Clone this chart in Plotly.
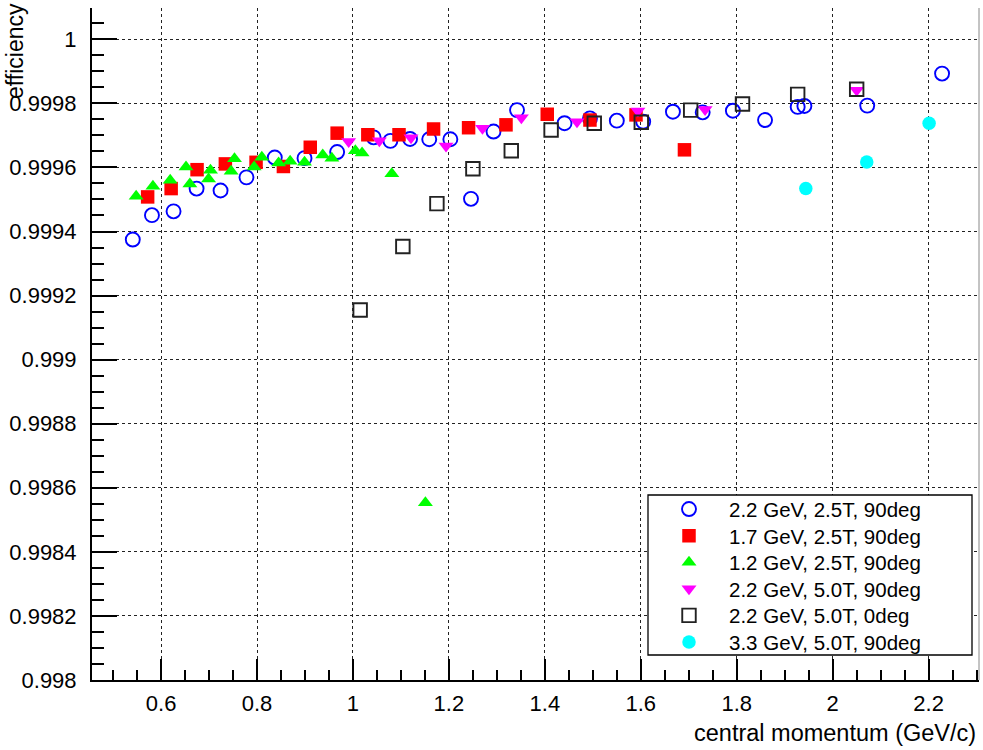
import plotly.graph_objects as go

# ---- data ----
x_22_25_90 = [0.541, 0.581, 0.626, 0.674, 0.724, 0.778, 0.837, 0.899, 0.967, 1.043, 1.078, 1.119, 1.159,
              1.203, 1.246, 1.293, 1.342, 1.441, 1.494, 1.550, 1.605, 1.667, 1.729, 1.792, 1.859, 1.927,
              1.941, 2.072, 2.228]
y_22_25_90 = [0.999375, 0.999451, 0.999463, 0.999534, 0.999528, 0.999569, 0.999631, 0.999629, 0.999648,
              0.999694, 0.999683, 0.999689, 0.999688, 0.999688, 0.999502, 0.999712, 0.999779, 0.999738,
              0.999753, 0.999746, 0.999743, 0.999774, 0.999772, 0.999777, 0.999748, 0.999789, 0.999792,
              0.999793, 0.999893]

x_17_25_90 = [0.572, 0.621, 0.675, 0.734, 0.798, 0.855, 0.911, 0.967, 1.031, 1.096, 1.168, 1.241, 1.319,
              1.405, 1.494, 1.590, 1.691]
y_17_25_90 = [0.999508, 0.999534, 0.999593, 0.999611, 0.999616, 0.999603, 0.999663, 0.999707, 0.999702,
              0.999702, 0.999720, 0.999724, 0.999733, 0.999766, 0.999748, 0.999764, 0.999655]

x_12_25_90 = [0.548, 0.583, 0.619, 0.652, 0.660, 0.699, 0.703, 0.746, 0.753, 0.794, 0.810, 0.845, 0.869,
              0.899, 0.937, 0.956, 1.005, 1.019, 1.081, 1.151]
y_12_25_90 = [0.999510, 0.999541, 0.999560, 0.999601, 0.999548, 0.999564, 0.999591, 0.999588, 0.999627,
              0.999601, 0.999632, 0.999614, 0.999619, 0.999616, 0.999639, 0.999629, 0.999652, 0.999645,
              0.999580, 0.998553]

x_22_50_90 = [0.991, 1.055, 1.121, 1.194, 1.270, 1.351, 1.467, 1.594, 1.734, 2.050]
y_22_50_90 = [0.999681, 0.999683, 0.999693, 0.999667, 0.999722, 0.999755, 0.999743, 0.999776, 0.999781,
              0.999841]

x_22_50_0 = [1.015, 1.104, 1.175, 1.250, 1.330, 1.413, 1.503, 1.601, 1.704, 1.812, 1.927, 2.050]
y_22_50_0 = [0.999155, 0.999353, 0.999487, 0.999596, 0.999652, 0.999717, 0.999738, 0.999741, 0.999779,
             0.999798, 0.999828, 0.999844]

x_33_50_90 = [1.944, 2.071, 2.201]
y_33_50_90 = [0.999534, 0.999617, 0.999738]

series_names = ["2.2 GeV, 2.5T, 90deg", "1.7 GeV, 2.5T, 90deg", "1.2 GeV, 2.5T, 90deg",
                "2.2 GeV, 5.0T, 90deg", "2.2 GeV, 5.0T, 0deg", "3.3 GeV, 5.0T, 90deg"]

x_tickvals = [0.6, 0.8, 1.0, 1.2, 1.4, 1.6, 1.8, 2.0, 2.2]
x_ticktext = ["0.6", "0.8", "1", "1.2", "1.4", "1.6", "1.8", "2", "2.2"]
y_tickvals = [0.998, 0.9982, 0.9984, 0.9986, 0.9988, 0.999, 0.9992, 0.9994, 0.9996, 0.9998, 1.0]
y_ticktext = ["0.998", "0.9982", "0.9984", "0.9986", "0.9988", "0.999", "0.9992", "0.9994", "0.9996",
              "0.9998", "1"]

x_title = "central momentum (GeV/c)"
y_title = "efficiency"

# ---- figure ----
FONT = "Liberation Sans, Arial, Helvetica, sans-serif"
L, R, T, B = 92, 4, 8, 70
W, H = 983, 750
PW, PH = W - L - R, H - T - B


def px_x(p):
    return (p - L) / PW


def px_y(p):
    return (H - B - p) / PH


fig = go.Figure()

styles = [
    dict(symbol="circle-open", size=14, color="#0000ff", line=dict(color="#0000ff", width=1.9)),
    dict(symbol="square", size=13.5, color="#ff0000", line=dict(width=0)),
    dict(symbol="triangle-up", size=13, color="#00ff00", line=dict(width=0)),
    dict(symbol="triangle-down", size=13, color="#ff00ff", line=dict(width=0)),
    dict(symbol="square-open", size=13.5, color="#222222", line=dict(color="#222222", width=1.9)),
    dict(symbol="circle", size=13.5, color="#00ffff", line=dict(width=0)),
]
xs = [x_22_25_90, x_17_25_90, x_12_25_90, x_22_50_90, x_22_50_0, x_33_50_90]
ys = [y_22_25_90, y_17_25_90, y_12_25_90, y_22_50_90, y_22_50_0, y_33_50_90]
legend_ids = ["legend", "legend2", "legend3", "legend4", "legend5", "legend6"]

for name, x, y, st, lid in zip(series_names, xs, ys, styles, legend_ids):
    fig.add_trace(go.Scatter(x=x, y=y, mode="markers", name=name, marker=st,
                             cliponaxis=False, legend=lid))

# one legend per entry, so the row pitch matches the reference box
row_centers = [509, 535.6, 562.2, 588.8, 615.4, 642]
legend_layout = {}
for lid, c in zip(legend_ids, row_centers):
    legend_layout[lid] = dict(
        x=px_x(649), y=px_y(c - 19.8), xanchor="left", yanchor="top",
        bgcolor="rgba(0,0,0,0)", borderwidth=0,
        font=dict(family=FONT, size=20.5, color="black"),
        itemwidth=70,
    )

fig.update_layout(
    width=W, height=H,
    margin=dict(l=L, r=R, t=T, b=B),
    paper_bgcolor="white", plot_bgcolor="white",
    font=dict(family=FONT, color="black", size=22),
    showlegend=True,
    xaxis=dict(
        range=[0.456, 2.305], showline=True, linecolor="black", linewidth=2,
        tickmode="array", tickvals=x_tickvals, ticktext=x_ticktext,
        ticks="inside", ticklen=21, tickwidth=1.5, tickcolor="black",
        ticklabelstandoff=3,
        showgrid=True, gridcolor="#222222", gridwidth=1.2, griddash="dot",
        zeroline=False, mirror=False,
        tickfont=dict(family=FONT, size=22),
        minor=dict(dtick=0.05, tick0=0.45, ticks="inside", ticklen=10, tickwidth=1.5,
                   tickcolor="black", showgrid=False),
    ),
    yaxis=dict(
        range=[0.998, 1.0000977], showline=True, linecolor="black", linewidth=2,
        tickmode="array", tickvals=y_tickvals, ticktext=y_ticktext,
        ticks="inside", ticklen=25, tickwidth=1.5, tickcolor="black",
        ticklabelstandoff=9,
        showgrid=True, gridcolor="#222222", gridwidth=1.2, griddash="dot",
        zeroline=False, mirror=False,
        tickfont=dict(family=FONT, size=22),
        minor=dict(dtick=0.00005, tick0=0.998, ticks="inside", ticklen=12, tickwidth=1.5,
                   tickcolor="black", showgrid=False),
    ),
    **legend_layout,
)

# legend box (opaque white, black border)
fig.add_shape(type="rect", xref="paper", yref="paper",
              x0=px_x(648), x1=px_x(972), y0=px_y(655), y1=px_y(495),
              fillcolor="white", line=dict(color="black", width=1.3), layer="above")
# thin right frame edge
fig.add_shape(type="line", xref="paper", yref="paper", x0=1, x1=1, y0=0, y1=1,
              line=dict(color="#888888", width=1), layer="above")

# axis titles
fig.add_annotation(text=x_title, xref="paper", yref="paper", x=px_x(978), y=px_y(733),
                   xanchor="right", yanchor="middle", showarrow=False,
                   font=dict(family=FONT, size=23.5, color="black"))
fig.add_annotation(text=y_title, xref="paper", yref="paper", x=px_x(15), y=px_y(1),
                   xanchor="center", yanchor="top", textangle=-90, showarrow=False,
                   font=dict(family=FONT, size=23, color="black"))

fig.write_html("out.html")
